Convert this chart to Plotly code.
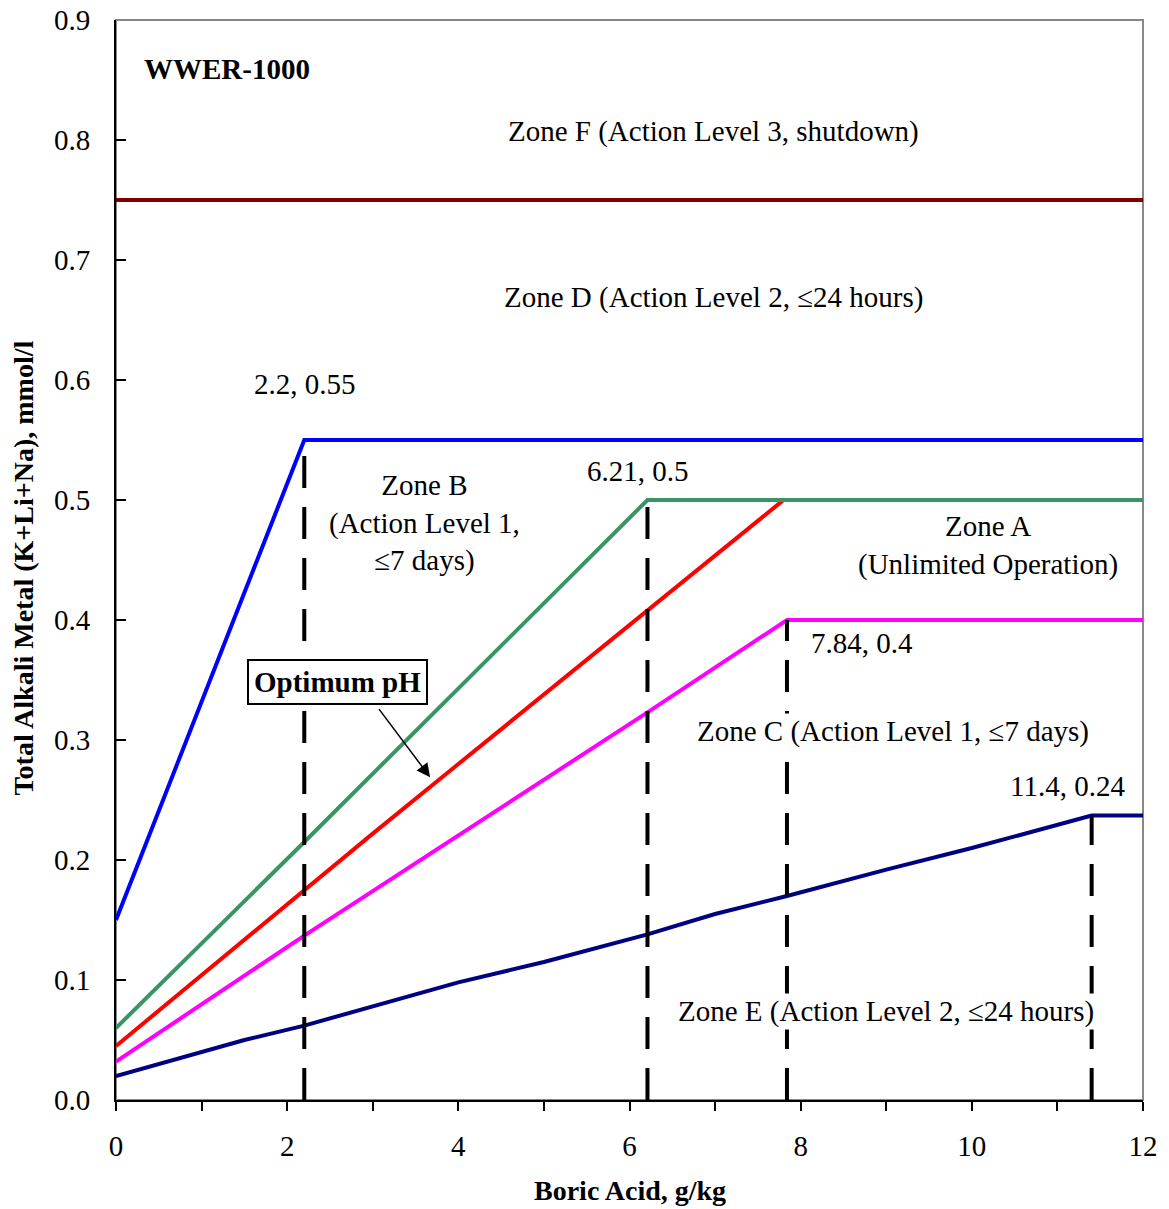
import plotly.graph_objects as go

# ---- data ----
shutdown_x = [0, 12]
shutdown_y = [0.75, 0.75]

blue_x = [0, 2.2, 12]
blue_y = [0.15, 0.55, 0.55]

green_x = [0, 2.2, 6.21, 12]
green_y = [0.06, 0.215, 0.5, 0.5]

red_x = [0, 1.5, 3, 4, 5, 6, 7.8, 12]
red_y = [0.045, 0.134, 0.222, 0.28, 0.338, 0.396, 0.5, 0.5]

magenta_x = [0, 2.2, 6.21, 7.84, 12]
magenta_y = [0.032, 0.137, 0.323, 0.4, 0.4]

navy_x = [0, 1.5, 2.2, 4, 5, 6.21, 7, 7.84, 9, 10, 11.4, 12]
navy_y = [0.02, 0.05, 0.062, 0.098, 0.115, 0.138, 0.155, 0.17, 0.192, 0.21, 0.237, 0.237]

break_x = [2.2, 6.21, 7.84, 11.4]
break_y = [0.55, 0.5, 0.4, 0.237]

x_ticks = [0, 2, 4, 6, 8, 10, 12]
y_ticks = [0.0, 0.1, 0.2, 0.3, 0.4, 0.5, 0.6, 0.7, 0.8, 0.9]

FONT = "Liberation Serif, Times New Roman, serif"
FS = 29

fig = go.Figure()

series = [
    (shutdown_x, shutdown_y, "#800000"),
    (red_x, red_y, "#FF0000"),
    (green_x, green_y, "#3A9566"),
    (blue_x, blue_y, "#0000FF"),
    (magenta_x, magenta_y, "#FF00FF"),
    (navy_x, navy_y, "#000080"),
]
for xs, ys, c in series:
    fig.add_trace(go.Scatter(x=xs, y=ys, mode="lines",
                             line=dict(color=c, width=4), hoverinfo="skip"))

for bx, by in zip(break_x, break_y):
    fig.add_trace(go.Scatter(x=[bx, bx], y=[0, by], mode="lines",
                             line=dict(color="black", width=4, dash="32px,19px"),
                             hoverinfo="skip"))

ann = dict(font=dict(family=FONT, size=FS, color="black"), showarrow=False,
           xref="x", yref="y")
texts = [
    (0.3, 0.859, "<b>WWER-1000</b>", "left", None),
    (6.98, 0.807, "Zone F (Action Level 3, shutdown)", "center", None),
    (6.98, 0.669, "Zone D (Action Level 2, ≤24 hours)", "center", None),
    (2.21, 0.597, "2.2, 0.55", "center", None),
    (3.61, 0.481, "Zone B<br>(Action Level 1,<br>≤7 days)", "center", None),
    (6.1, 0.524, "6.21, 0.5", "center", None),
    (10.19, 0.4625, "Zone A<br>(Unlimited Operation)", "center", None),
    (8.72, 0.381, "7.84, 0.4", "center", None),
    (9.08, 0.3075, "Zone C (Action Level 1, ≤7 days)", "center", "white"),
    (11.12, 0.2617, "11.4, 0.24", "center", None),
    (9.0, 0.074, "Zone E (Action Level 2, ≤24 hours)", "center", "white"),
]
for x, y, t, al, bg in texts:
    fig.add_annotation(x=x, y=y, text=t, xanchor=al, align="center",
                       bgcolor=bg if bg else "rgba(0,0,0,0)", **ann)

fig.add_annotation(x=2.59, y=0.348, text="<b>Optimum pH</b>", showarrow=False,
                   font=dict(family=FONT, size=FS, color="black"),
                   bordercolor="black", borderwidth=2, borderpad=5, bgcolor="white")
fig.add_annotation(x=3.67, y=0.269, ax=3.06, ay=0.327, axref="x", ayref="y",
                   text="", showarrow=True, arrowhead=2, arrowsize=1.8,
                   arrowwidth=1.5, arrowcolor="black")

# axis titles
fig.add_annotation(x=0.5, y=-0.0835, xref="paper", yref="paper", showarrow=False,
                   text="<b>Boric Acid, g/kg</b>", font=dict(family=FONT, size=28, color="black"),
                   xanchor="center", yanchor="middle")
fig.add_annotation(x=-0.0896, y=0.493, xref="paper", yref="paper", showarrow=False,
                   text="<b>Total Alkali Metal (K+Li+Na), mmol/l</b>", textangle=-90,
                   font=dict(family=FONT, size=28, color="black"),
                   xanchor="center", yanchor="middle")

fig.add_shape(type="rect", xref="paper", yref="paper", x0=0, y0=0, x1=1, y1=1,
              line=dict(color="#888888", width=2), layer="below")

# page body has an 8px margin, so the figure is sized/offset to compensate
fig.update_layout(
    width=1161, height=1201,
    margin=dict(l=108, r=26, t=12, b=109, autoexpand=False),
    plot_bgcolor="white", paper_bgcolor="white",
    showlegend=False,
    font=dict(family=FONT, color="black"),
)
fig.update_xaxes(range=[0, 12], tickvals=x_ticks, ticktext=[str(v) for v in x_ticks],
                 ticks="outside", ticklen=9, tickwidth=1.5, tickcolor="black",
                 minor=dict(dtick=1, ticks="outside", ticklen=9, tickcolor="black", tickwidth=1.5),
                 showgrid=False, zeroline=False, showline=True, linecolor="black", linewidth=2,
                 tickfont=dict(family=FONT, size=FS), ticklabelstandoff=10, automargin=False,
                 ticklabeloverflow="allow")
fig.update_yaxes(range=[0, 0.9], tickvals=y_ticks, ticktext=[f"{v:.1f}" for v in y_ticks],
                 ticks="inside", ticklen=10, tickwidth=1.5, tickcolor="black",
                 showgrid=False, zeroline=False, showline=True, linecolor="black", linewidth=2,
                 tickfont=dict(family=FONT, size=FS), ticklabelstandoff=18, automargin=False,
                 ticklabeloverflow="allow")

fig.write_html("out.html")
